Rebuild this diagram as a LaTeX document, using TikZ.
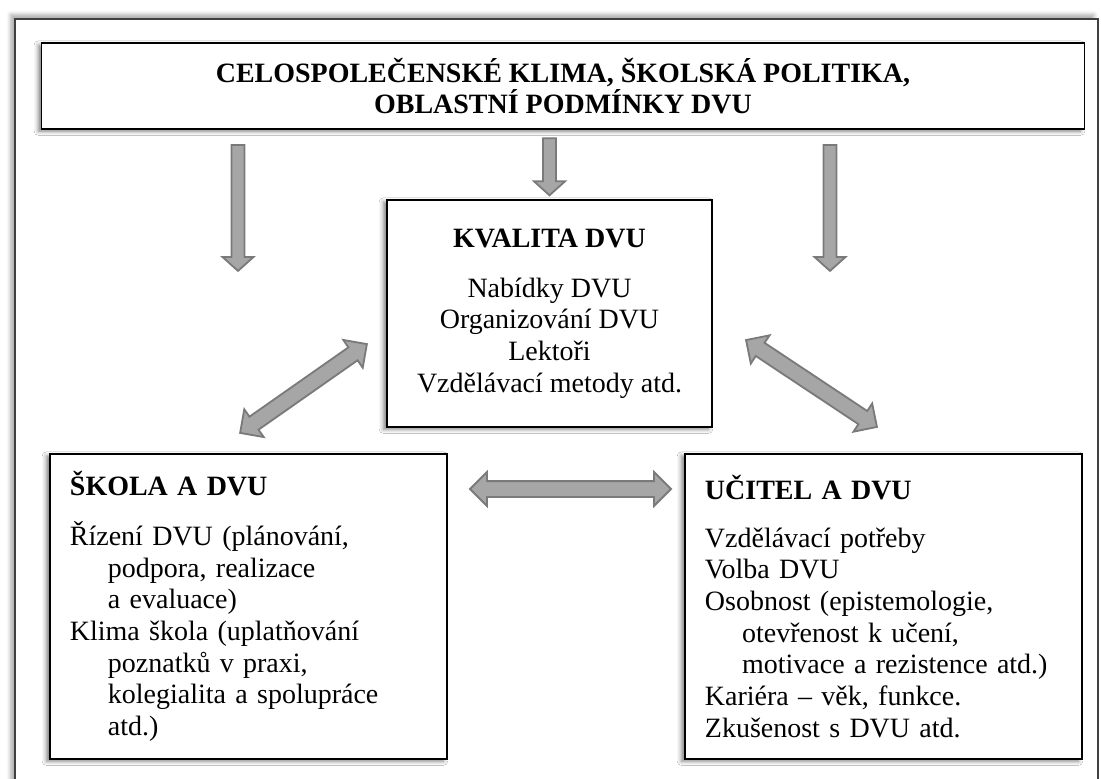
\documentclass[tikz,border=0pt]{standalone}
\usepackage{fontspec}
\setmainfont{Liberation Serif}
\usetikzlibrary{calc,shapes.arrows,shadows.blur}

\definecolor{arrfill}{HTML}{A6A6A6}
\definecolor{arredge}{HTML}{7A7A7A}

\tikzset{
  box/.style={draw=black, line width=0.9pt, fill=white, inner sep=0pt,
    blur shadow={shadow xshift=-2.5pt, shadow yshift=-1.5pt, shadow blur radius=3pt, shadow opacity=50}},
  sidebox/.style={box, minimum width=9.925cm, minimum height=7.625cm, text width=8.925cm, align=left},
  downarr/.style={single arrow, draw=arredge, fill=arrfill, line width=1.3pt, inner xsep=0pt, inner ysep=0.14cm,
    single arrow head extend=0.225cm, single arrow tip angle=96},
  bothway/.style={double arrow, draw=arredge, fill=arrfill, line width=1.3pt, inner xsep=0pt, inner ysep=0.175cm,
    double arrow head extend=0.225cm, double arrow tip angle=90},
}

% block arrow between two named points
\newcommand{\blockarr}[3]{%
  \path let \p1=($(#3)-(#2)$), \n1={atan2(\y1,\x1)}, \n2={veclen(\x1,\y1)} in
    node[#1, rotate=\n1, minimum height=\n2] at ($(#2)!0.5!(#3)$) {};}

\begin{document}
\begin{tikzpicture}[x=0.025cm, y=-0.025cm, font=\fontsize{19.9}{22.5}\selectfont]
  \useasboundingbox (0,0) rectangle (1101,778);
  \clip (0,0) rectangle (1101,778);
  \draw[draw=black!75, fill=white, line width=1.2pt,
    blur shadow={shadow xshift=-3pt, shadow yshift=3pt, shadow blur radius=3pt, shadow opacity=35}]
    (15,19) rectangle (1098,800);

  \node[box, minimum width=26.05cm, minimum height=2.15cm, align=center] (klima) at (563,86)
    {\textbf{CELOSPOLEČENSKÉ KLIMA, ŠKOLSKÁ POLITIKA,}\\\textbf{OBLASTNÍ PODMÍNKY DVU}};

  \node[box, minimum width=8.125cm, minimum height=5.675cm, align=center] (kvalita) at (549.5,313.5)
    {\textbf{KVALITA DVU}\\[0.45cm]Nabídky DVU\\Organizování DVU\\Lektoři\\Vzdělávací metody atd.};

  \node[sidebox] (skola) at (248.5,606.5)
    {\textbf{ŠKOLA A DVU}\\[0.45cm]
     Řízení DVU (plánování,\\
     \hspace*{0.95cm}podpora, realizace\\
     \hspace*{0.95cm}a evaluace)\\
     Klima škola (uplatňování\\
     \hspace*{0.95cm}poznatků v praxi,\\
     \hspace*{0.95cm}kolegialita a spolupráce\\
     \hspace*{0.95cm}atd.)};

  \node[sidebox] (ucitel) at (883.5,606.5)
    {\textbf{UČITEL A DVU}\\[0.4cm]
     Vzdělávací potřeby\\
     Volba DVU\\
     Osobnost (epistemologie,\\
     \hspace*{0.93cm}otevřenost k učení,\\
     \hspace*{0.93cm}motivace a rezistence atd.)\\
     Kariéra -- věk, funkce.\\
     Zkušenost s DVU atd.};

  % arrow ends
  \coordinate (dl1) at (238,142);
  \coordinate (dl2) at (238,268);
  \coordinate (dm1) at ($(kvalita.north)+(0,-64)$);
  \coordinate (dm2) at ($(kvalita.north)+(0,-7)$);
  \coordinate (dr1) at (830,142);
  \coordinate (dr2) at (830,268);
  \coordinate (ql1) at (240,433);
  \coordinate (ql2) at (367,344);
  \coordinate (qr1) at (746,340);
  \coordinate (qr2) at (877,427);
  \coordinate (su1) at (470,489);
  \coordinate (su2) at (671,489);

  \blockarr{downarr}{dl1}{dl2}
  \blockarr{downarr}{dm1}{dm2}
  \blockarr{downarr}{dr1}{dr2}
  \blockarr{bothway}{ql1}{ql2}
  \blockarr{bothway}{qr1}{qr2}
  \blockarr{bothway}{su1}{su2}
\end{tikzpicture}
\end{document}
